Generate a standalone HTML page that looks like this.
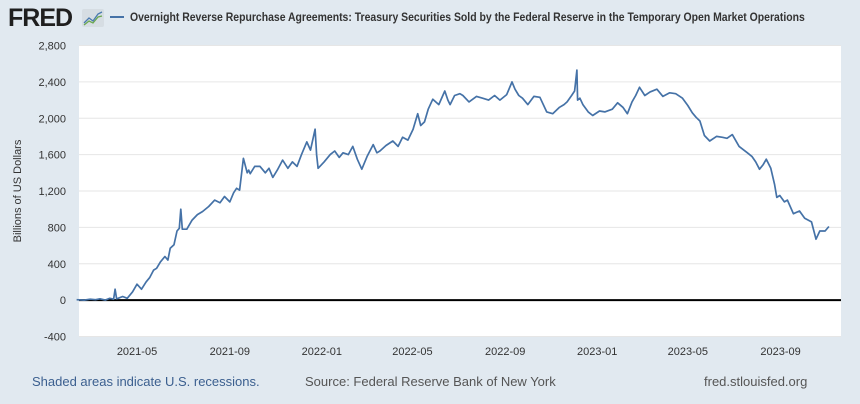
<!DOCTYPE html>
<html><head><meta charset="utf-8"><style>
body{margin:0;width:860px;height:404px;background:#e1e9f0;font-family:"Liberation Sans",sans-serif;overflow:hidden;position:relative}
.t{position:absolute;white-space:nowrap}
</style></head><body>
<div class="t" style="left:8px;top:4px;font-size:25px;font-weight:900;color:#1f1f1f;letter-spacing:-1px">FRED</div>
<svg style="position:absolute;left:82px;top:9px" width="22" height="18"><rect x="0" y="0" width="22" height="18" rx="2" fill="#d6dde3"/><polyline points="2,14 7,9 11,12 16,5 20,3" fill="none" stroke="#4a7ab0" stroke-width="1.3"/><polyline points="2,16 7,12 11,14 16,8 20,7" fill="none" stroke="#6aa84f" stroke-width="1.3"/></svg>
<div style="position:absolute;left:110px;top:16px;width:14px;height:2px;background:#4572a7"></div>
<div class="t" style="left:130px;top:10px;font-size:12px;font-weight:bold;color:#333;transform:scaleX(0.87);transform-origin:0 0">Overnight Reverse Repurchase Agreements: Treasury Securities Sold by the Federal Reserve in the Temporary Open Market Operations</div>
<div class="t" style="left:18px;top:191px;font-size:11px;color:#333;transform:translate(-50%,-50%) rotate(-90deg)">Billions of US Dollars</div>
<svg id="chart" style="position:absolute;left:0;top:0" width="860" height="404"></svg>
<div class="t" style="left:32px;top:374px;font-size:13px;color:#3b5f8f">Shaded areas indicate U.S. recessions.</div>
<div class="t" style="left:305px;top:374px;font-size:13px;color:#555">Source: Federal Reserve Bank of New York</div>
<div class="t" style="left:704px;top:374px;font-size:13px;color:#555">fred.stlouisfed.org</div>
<script>
const yTicks=[-400,0,400,800,1200,1600,2000,2400,2800];
const yTickLabels=["-400","0","400","800","1,200","1,600","2,000","2,400","2,800"];
const xTickDays=[0,123,245,365,488,610,730,853];
const xTickLabels=["2021-05","2021-09","2022-01","2022-05","2022-09","2023-01","2023-05","2023-09"];
// days since 2021-05-01
const days=[-80,-70,-62,-55,-49,-42,-36,-31,-29,-27,-25,-19,-13,-6,0,6,12,17,22,26,31,37,41,44,49,53,56,58,60,66,73,80,87,95,103,110,116,123,128,132,136,141,146,148,150,156,163,170,175,180,186,193,200,206,212,218,225,230,236,238,240,248,256,262,268,273,280,286,292,298,305,313,318,322,330,339,346,352,359,366,372,376,381,386,392,400,408,412,415,421,428,432,440,450,458,466,474,481,490,497,501,506,511,518,526,534,543,551,560,566,570,576,580,583,584,587,591,598,604,613,620,630,637,644,650,656,661,666,673,680,689,697,706,714,723,730,736,741,746,752,759,768,776,782,789,798,809,815,820,825,830,834,840,845,848,852,858,862,870,878,885,894,900,905,912,917,921,926,935];
const values=[5,0,10,5,15,0,20,10,120,15,20,40,20,90,175,120,200,250,330,350,420,480,440,570,610,760,790,1000,780,780,880,940,975,1030,1100,1070,1140,1080,1180,1230,1210,1560,1400,1430,1390,1470,1470,1400,1450,1350,1430,1540,1450,1520,1470,1600,1740,1650,1880,1600,1450,1520,1600,1640,1570,1620,1600,1690,1550,1440,1580,1710,1620,1640,1700,1750,1690,1790,1760,1880,2050,1920,1960,2100,2210,2150,2300,2200,2150,2250,2270,2250,2180,2240,2220,2200,2250,2200,2260,2400,2320,2250,2220,2150,2240,2230,2070,2050,2120,2150,2180,2250,2300,2530,2200,2220,2150,2070,2030,2080,2070,2100,2170,2120,2050,2180,2250,2340,2250,2290,2320,2240,2280,2270,2220,2140,2060,2010,1970,1810,1750,1800,1790,1780,1820,1690,1620,1580,1520,1440,1490,1550,1450,1270,1130,1150,1080,1100,950,980,900,860,670,760,760,810];
const svg=document.getElementById('chart');
const NS='http://www.w3.org/2000/svg';
const L=79,R=841,T=45.5,B=336.5;
function yS(v){return B-(v+400)/3200*(B-T);}
function xS(d){return 137+d*0.7545;}
function mk(tag,attrs,parent){const e=document.createElementNS(NS,tag);for(const k in attrs)e.setAttribute(k,attrs[k]);(parent||svg).appendChild(e);return e;}
const bg=mk('rect',{x:L,y:T,width:R-L,height:B-T,fill:'#fff'});


yTicks.forEach((v,i)=>{
  const g=mk('line',{x1:L,x2:R,y1:yS(v),y2:yS(v),stroke:v===0?'#000':'#e6e6e6','stroke-width':v===0?2:1});
  
  
  const t=mk('text',{x:66,y:yS(v)+4,'text-anchor':'end','font-size':'11','fill':'#333','font-family':'Liberation Sans, sans-serif'});
  t.textContent=yTickLabels[i];
  
  
});
xTickDays.forEach((d,i)=>{
  const t=mk('text',{x:xS(d),y:355,'text-anchor':'middle','font-size':'11','fill':'#333','font-family':'Liberation Sans, sans-serif'});
  t.textContent=xTickLabels[i];
  
  
});
const pts=days.map((d,i)=>xS(d).toFixed(1)+','+yS(values[i]).toFixed(1)).join(' ');
const line=mk('polyline',{points:pts,fill:'none',stroke:'#4572a7','stroke-width':1.7,'stroke-linejoin':'round'});


</script>
</body></html>
